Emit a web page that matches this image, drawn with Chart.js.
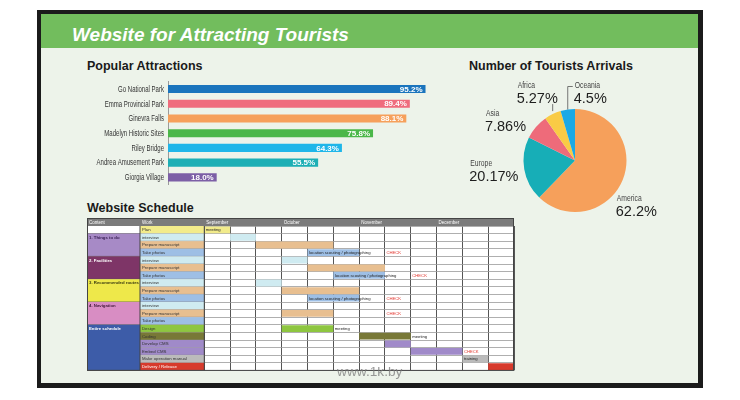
<!DOCTYPE html>
<html>
<head>
<meta charset="utf-8">
<title>Website for Attracting Tourists</title>
<script src="https://cdn.jsdelivr.net/npm/chart.js@4.4.1/dist/chart.umd.min.js"></script>
<style>
  html, body { margin: 0; padding: 0; background: #fff; }
  body { width: 740px; height: 400px; position: relative; overflow: hidden; font-family: "Liberation Sans", Arial, sans-serif; }
  .frame { position: absolute; left: 37px; top: 10px; width: 666px; height: 378px; background: #1b1b1b; }
  .screen { position: absolute; left: 41px; top: 14px; width: 657px; height: 369px; background: #edf3ea; }
  .band { position: absolute; left: 41px; top: 14px; width: 657px; height: 34px; background: #72bd5d; }
  .title { position: absolute; left: 72px; top: 23.5px; color: #fff; line-height: 1; white-space: nowrap;
           font: italic bold 19px "Liberation Sans", Arial, sans-serif; }
  .h2 { position: absolute; line-height: 1; white-space: nowrap; color: #1a1a1a;
        font: bold 12.5px "Liberation Sans", Arial, sans-serif; }
  canvas { position: absolute; }
  .wm { position: absolute; left: 337px; top: 365px; font: 13.7px "Liberation Sans", Arial, sans-serif;
        color: rgba(120, 120, 120, 0.75); line-height: 1; }
</style>
</head>
<body>
<div class="frame"></div>
<div class="screen"></div>
<div class="band"></div>
<div class="title">Website for Attracting Tourists</div>
<div class="h2" style="left:87px; top:59px;">Popular Attractions</div>
<div class="h2" style="left:469px; top:59px;">Number of Tourists Arrivals</div>
<div class="h2" style="left:87px; top:201px;">Website Schedule</div>

<canvas id="attractions" width="362" height="106" style="left:80px; top:80px;"></canvas>
<canvas id="arrivals" width="270" height="160" style="left:440px; top:70px;"></canvas>
<canvas id="schedule" width="428" height="154" style="left:87px; top:218px;"></canvas>
<div class="wm">www.1k.by</div>

<script>
const SANS = '"Liberation Sans", Arial, sans-serif';

// Popular Attractions
const attractionNames = ['Go National Park', 'Emma Provincial Park', 'Ginevra Falls', 'Madelyn Historic Sites',
  'Riley Bridge', 'Andrea Amusement Park', 'Giorgia Village'];
const attractionShares = [95.2, 89.4, 88.1, 75.8, 64.3, 55.5, 18.0];
const attractionColors = ['#1a74bd', '#ef6c7d', '#f6a05b', '#4bb749', '#1fb6e9', '#1dafb5', '#7c5fa6'];

// Number of Tourists Arrivals
const regionNames = ['America', 'Europe', 'Asia', 'Africa', 'Oceania'];
const regionShares = [62.2, 20.17, 7.86, 5.27, 4.5];
const regionColors = ['#f6a05b', '#17aeb7', '#ee6b7a', '#f9cb45', '#1ba9e6'];

// Website Schedule (12 weekly columns, 3 per month)
const scheduleMonths = ['September', 'October', 'November', 'December'];
const contentGroups = ['', '1. Things to do', '2. Facilities', '3. Recommended routes', '4. Navigation', 'Entire schedule'];
const contentGroupRows = [1, 3, 3, 3, 3, 6];
const scheduleTasks = ['Plan',
  'interview', 'Prepare manuscript', 'Take photos',
  'interview', 'Prepare manuscript', 'Take photos',
  'interview', 'Prepare manuscript', 'Take photos',
  'interview', 'Prepare manuscript', 'Take photos',
  'Design', 'Coding', 'Develop CMS', 'Embed CMS', 'Make operation manual', 'Delivery / Release'];
const taskStartWeek = [0, 1, 2, 4, 3, 4, 5, 2, 3, 4, null, 3, null, 3, 6, 7, 8, 10, 11];
const taskEndWeek   = [1, 2, 5, 6, 4, 7, 7, 3, 6, 6, null, 5, null, 5, 8, 8, 10, 11, 12];
const noteRows  = [0, 3, 3, 6, 6, 9, 9, 11, 13, 14, 16, 17];
const noteWeeks = [0, 4, 7, 5, 8, 4, 7, 7, 5, 8, 10, 10];
const noteTexts = ['meeting', 'location scouting / photographing', 'CHECK',
  'location scouting / photographing', 'CHECK', 'location scouting / photographing', 'CHECK', 'CHECK',
  'meeting', 'meeting', 'CHECK', 'training'];

// styles
const taskColors = {
  'Plan': '#f2eb8b', 'interview': '#cfebf1', 'Prepare manuscript': '#e8bf90', 'Take photos': '#9ebfe5',
  'Design': '#8ec640', 'Coding': '#787837', 'Develop CMS': '#a08ac9', 'Embed CMS': '#a08ac9',
  'Make operation manual': '#bbbbbb', 'Delivery / Release': '#d73a2c',
};
const groupColors = ['#ffffff', '#a78ac6', '#7e3567', '#eee84a', '#d88dc3', '#3d5ca8'];
const groupTextColors = ['#333', '#3b2157', '#ffffff', '#3a3a10', '#4a2040', '#ffffff'];
const calloutStyle = [
  { dx: -6, dy: 19 },
  { dx: -54, dy: -6 },
  { dx: -50, dy: -13 },
  { dx: -35, dy: -28, leader: [[0, -3], [0, -10]] },
  { dx: 7, dy: -24, leader: [[0, 0], [0, -23], [5, -23]] },
];

Chart.defaults.animation = false;
Chart.defaults.plugins.legend.display = false;
Chart.defaults.plugins.tooltip.enabled = false;

// condensed text, the slide uses a narrow face
function narrowText(ctx, text, x, y, squeeze) {
  ctx.save();
  ctx.translate(x, y);
  ctx.scale(squeeze, 1);
  ctx.fillText(text, 0, 0);
  ctx.restore();
}

const barLabels = {
  id: 'barLabels',
  afterDatasetsDraw(chart) {
    const { ctx, scales: { y } } = chart;
    ctx.save();
    ctx.textBaseline = 'middle';
    ctx.textAlign = 'right';
    ctx.font = '8.5px ' + SANS;
    ctx.fillStyle = '#333';
    attractionNames.forEach((name, i) => narrowText(ctx, name, y.right - 4, y.getPixelForValue(i) + 0.5, 0.71));
    ctx.font = 'bold 8px ' + SANS;
    ctx.fillStyle = '#fff';
    chart.getDatasetMeta(0).data.forEach((bar, i) => {
      ctx.fillText(attractionShares[i].toFixed(1) + '%', bar.x - 3, bar.y + 0.5);
    });
    ctx.restore();
  },
};

new Chart(document.getElementById('attractions'), {
  type: 'bar',
  data: {
    labels: attractionNames,
    datasets: [{
      data: attractionShares,
      backgroundColor: attractionColors,
      borderWidth: 0,
      barPercentage: 0.55,
      categoryPercentage: 1,
    }],
  },
  options: {
    indexAxis: 'y',
    responsive: false,
    layout: { padding: { top: 1.7, bottom: 1.3, right: 3.5, left: 0 } },
    scales: {
      x: { display: false, min: 0, max: 100 },
      y: {
        afterFit: (s) => { s.width = 88; s.paddingTop = 0; s.paddingBottom = 0; },
        grid: { display: false, drawTicks: false },
        border: { display: true, color: '#9a9a9a', width: 1 },
        ticks: { display: false },
      },
    },
  },
  plugins: [barLabels],
});

const callouts = {
  id: 'callouts',
  afterDatasetsDraw(chart) {
    const { ctx } = chart;
    ctx.save();
    chart.getDatasetMeta(0).data.forEach((arc, i) => {
      const mid = (arc.startAngle + arc.endAngle) / 2;
      const px = arc.x + Math.cos(mid) * arc.outerRadius;
      const py = arc.y + Math.sin(mid) * arc.outerRadius;
      const st = calloutStyle[i];
      if (st.leader) {
        ctx.strokeStyle = '#555';
        ctx.lineWidth = 0.8;
        ctx.beginPath();
        st.leader.forEach(([lx, ly], k) => {
          if (k === 0) ctx.moveTo(px + lx, py + ly);
          else ctx.lineTo(px + lx, py + ly);
        });
        ctx.stroke();
      }
      const tx = px + st.dx;
      const ty = py + st.dy;
      ctx.textAlign = 'left';
      ctx.textBaseline = 'middle';
      ctx.fillStyle = '#444';
      ctx.font = '8.5px ' + SANS;
      narrowText(ctx, regionNames[i], tx, ty, 0.8);
      ctx.fillStyle = '#1e1e1e';
      ctx.font = '14.5px ' + SANS;
      ctx.fillText(regionShares[i] + '%', tx - 1, ty + 13.4);
    });
    ctx.restore();
  },
};

new Chart(document.getElementById('arrivals'), {
  type: 'pie',
  data: {
    labels: regionNames,
    datasets: [{ data: regionShares, backgroundColor: regionColors, borderWidth: 0 }],
  },
  options: {
    responsive: false,
    layout: { padding: { left: 83.5, right: 83.5, top: 39, bottom: 18 } },
  },
  plugins: [callouts],
});

const scheduleTable = {
  id: 'scheduleTable',
  beforeDraw(chart) {
    const { ctx, chartArea: a } = chart;
    ctx.save();
    ctx.fillStyle = '#fff';
    ctx.fillRect(0, a.top, a.right, a.bottom - a.top);
    ctx.restore();
  },
  afterDraw(chart) {
    const { ctx, chartArea: a, scales: { x, y } } = chart;
    const rowH = (a.bottom - a.top) / scheduleTasks.length;
    const workLeft = 53;
    ctx.save();
    ctx.textBaseline = 'middle';

    // header row
    ctx.fillStyle = '#7b7b7b';
    ctx.fillRect(0, 0, a.right, a.top);
    ctx.fillStyle = '#fff';
    ctx.font = '4.5px ' + SANS;
    ctx.fillText('Content', 2, a.top / 2 + 0.5);
    ctx.fillText('Work', workLeft + 2, a.top / 2 + 0.5);
    scheduleMonths.forEach((m, i) => ctx.fillText(m, x.getPixelForValue(i * 3) + 2, a.top / 2 + 0.5));

    // work column
    scheduleTasks.forEach((t, i) => {
      const cy = y.getPixelForValue(i);
      ctx.fillStyle = taskColors[t];
      ctx.fillRect(workLeft, cy - rowH / 2, a.left - workLeft, rowH);
      ctx.fillStyle = t === 'Delivery / Release' ? '#fff' : '#333';
      ctx.font = '4.3px ' + SANS;
      ctx.fillText(t, workLeft + 2, cy + 0.3);
      ctx.strokeStyle = '#8a8a8a';
      ctx.lineWidth = 0.7;
      ctx.beginPath();
      ctx.moveTo(workLeft, cy + rowH / 2);
      ctx.lineTo(a.left, cy + rowH / 2);
      ctx.stroke();
    });

    // content column
    let row = 0;
    contentGroups.forEach((g, k) => {
      const top = y.getPixelForValue(row) - rowH / 2;
      const h = rowH * contentGroupRows[k];
      ctx.fillStyle = groupColors[k];
      ctx.fillRect(0, top, workLeft, h);
      ctx.fillStyle = groupTextColors[k];
      ctx.font = 'bold 4.3px ' + SANS;
      ctx.fillText(g, 2, top + rowH / 2 + 0.3);
      ctx.strokeStyle = '#555';
      ctx.lineWidth = 0.8;
      ctx.beginPath();
      ctx.moveTo(0, top + h);
      ctx.lineTo(workLeft, top + h);
      ctx.stroke();
      row += contentGroupRows[k];
    });

    // column separators and outer border
    ctx.strokeStyle = '#444';
    ctx.lineWidth = 1;
    ctx.beginPath();
    ctx.moveTo(workLeft, a.top); ctx.lineTo(workLeft, a.bottom);
    ctx.moveTo(a.left, a.top); ctx.lineTo(a.left, a.bottom);
    ctx.stroke();
    ctx.strokeRect(0.5, 0.5, a.right - 1, a.bottom - 0.5);

    // notes
    ctx.font = '4.2px ' + SANS;
    noteTexts.forEach((n, i) => {
      ctx.fillStyle = n === 'CHECK' ? '#e2342c' : '#222';
      ctx.fillText(n, x.getPixelForValue(noteWeeks[i]) + 1.5, y.getPixelForValue(noteRows[i]) + 0.3);
    });
    ctx.restore();
  },
};

new Chart(document.getElementById('schedule'), {
  type: 'bar',
  data: {
    labels: scheduleTasks.map((t, i) => i),
    datasets: [{
      data: scheduleTasks.map((t, i) => (taskStartWeek[i] === null ? null : [taskStartWeek[i], taskEndWeek[i]])),
      backgroundColor: scheduleTasks.map((t) => taskColors[t]),
      borderWidth: 0,
      barPercentage: 0.9,
      categoryPercentage: 1,
    }],
  },
  options: {
    indexAxis: 'y',
    responsive: false,
    layout: { padding: { left: 117.3, right: 1, top: 8, bottom: 1.6 } },
    scales: {
      x: {
        type: 'linear', position: 'top', min: 0, max: 12,
        afterFit: (s) => { s.height = 0; },
        ticks: { display: false, stepSize: 1, maxTicksLimit: 13, autoSkip: false },
        grid: { color: '#555', lineWidth: 1, drawTicks: false },
        border: { display: false },
      },
      y: {
        type: 'category', offset: true,
        afterFit: (s) => { s.width = 0; },
        ticks: { display: false },
        grid: { offset: true, color: '#9a9a9a', lineWidth: 0.8, drawTicks: false },
        border: { display: false },
      },
    },
  },
  plugins: [scheduleTable],
});
</script>
</body>
</html>
